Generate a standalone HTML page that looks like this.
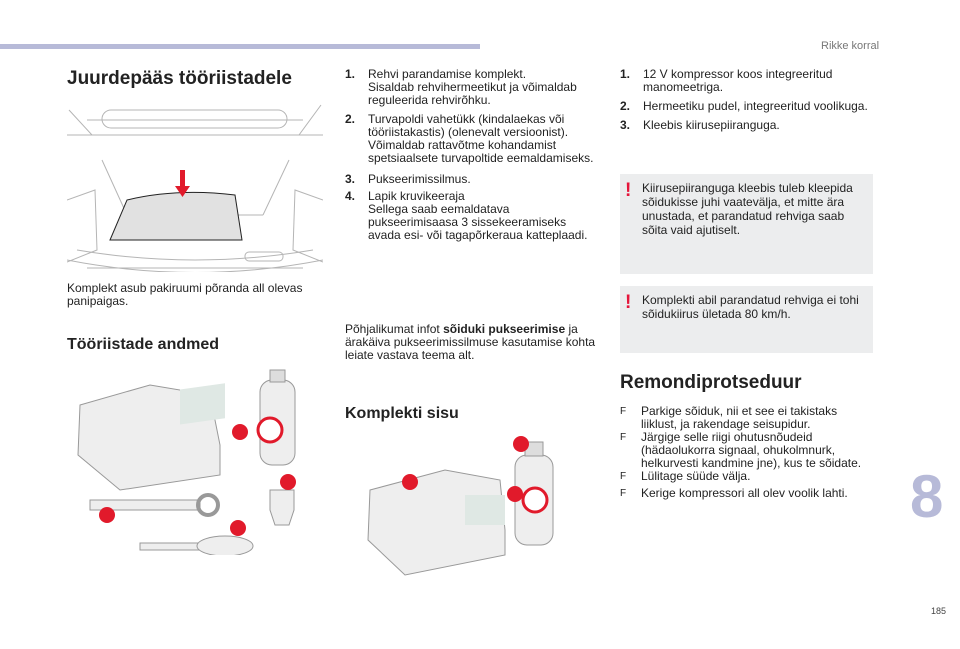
<!DOCTYPE html>
<html><head><meta charset="utf-8"><style>
body{margin:0;width:960px;height:649px;background:#fff;position:relative;overflow:hidden;font-family:"Liberation Sans",sans-serif;color:#222}
.a{position:absolute}
.t{font-size:12px;line-height:13px}
.h1{font-size:19px;font-weight:bold}
.h2{font-size:16px;font-weight:bold}
.n{position:absolute;font-weight:bold}
.li{position:relative;padding-left:23px;margin-bottom:6px}
.li b.n{left:0;top:0}
.box{background:#ecedee;position:absolute}
.ex{position:absolute;color:#e5163b;font-weight:bold;font-size:19px}
.f{position:relative;padding-left:21px;margin-bottom:0}
.f:before{content:"F";position:absolute;left:0;font-size:10px}
.c{fill:#e11a2b}
</style></head><body>
<div class="a" style="left:0;top:44px;width:480px;height:5px;background:#b7bad8"></div>
<div class="a" style="left:821px;top:40px;font-size:11px;color:#777">Rikke korral</div>
<div class="a" style="left:910px;top:462px;font-size:60px;font-weight:bold;color:#b7bad8">8</div>
<div class="a" style="left:931px;top:606px;font-size:9px;color:#444">185</div>

<div class="a h1" style="left:67px;top:68px">Juurdepääs tööriistadele</div>
<svg class="a" style="left:67px;top:100px" width="256" height="172">
<g fill="none" stroke="#b5b5b5" stroke-width="1">
<path d="M2 10 L25 35 M254 5 L232 35 M20 20 H236"/>
<rect x="35" y="10" width="185" height="18" rx="9"/>
<path d="M0 35 H256 M60 115 L35 60 M196 115 L222 60 M60 115 H196"/>
<path d="M0 160 Q128 185 256 160 M10 150 Q128 170 246 150 M20 168 H236"/>
<path d="M0 100 L28 90 L30 150 L0 162 M256 100 L228 90 L226 150 L256 162"/>
<rect x="178" y="152" width="38" height="9" rx="4"/>
</g>
<path d="M43 140 L60 100 Q110 88 168 95 L175 140 Z" fill="#e1e1e1" stroke="#222"/>
<path d="M113 70 h5 v16 h5 l-7.5 11 l-7.5 -11 h5z" fill="#e11a2b"/>
</svg>
<div class="a t" style="left:67px;top:282px;width:250px">Komplekt asub pakiruumi põranda all olevas panipaigas.</div>
<div class="a h2" style="left:67px;top:336px">Tööriistade andmed</div>
<svg class="a" style="left:70px;top:365px" width="240" height="190">
<path d="M10 40 L80 20 L140 30 L150 80 L150 110 L50 125 L8 90 Z" fill="#eee" stroke="#999"/>
<rect x="110" y="40" width="45" height="35" fill="#dfe8e4" transform="skewY(-8)"/>
<rect x="190" y="15" width="35" height="85" rx="12" fill="#eee" stroke="#999"/>
<rect x="200" y="5" width="15" height="12" fill="#ddd" stroke="#999"/>
<circle cx="200" cy="65" r="12" fill="#fff" stroke="#e11a2b" stroke-width="3"/>
<rect x="20" y="135" width="110" height="10" fill="#eee" stroke="#999"/>
<circle cx="138" cy="140" r="10" fill="none" stroke="#999" stroke-width="4"/>
<rect x="70" y="178" width="60" height="7" fill="#eee" stroke="#999"/>
<ellipse cx="155" cy="181" rx="28" ry="10" fill="#eee" stroke="#999"/>
<path d="M200 125 h24 v20 l-5 15 h-14 l-5 -15z" fill="#eee" stroke="#999"/>
<circle class="c" cx="170" cy="67" r="8"/><circle class="c" cx="37" cy="150" r="8"/>
<circle class="c" cx="218" cy="117" r="8"/><circle class="c" cx="168" cy="163" r="8"/>
</svg>

<div class="a t" style="left:345px;top:68px;width:250px">
<div class="li"><b class="n">1.</b>Rehvi parandamise komplekt.<br>Sisaldab rehvihermeetikut ja võimaldab reguleerida rehvirõhku.</div>
<div class="li" style="margin-bottom:8px"><b class="n">2.</b>Turvapoldi vahetükk (kindalaekas või tööriistakastis) (olenevalt versioonist).<br>Võimaldab rattavõtme kohandamist spetsiaalsete turvapoltide eemaldamiseks.</div>
<div class="li" style="margin-bottom:4px"><b class="n">3.</b>Pukseerimissilmus.</div>
<div class="li"><b class="n">4.</b>Lapik kruvikeeraja<br>Sellega saab eemaldatava pukseerimisaasa 3 sissekeeramiseks avada esi- või tagapõrkeraua katteplaadi.</div>
</div>
<div class="a t" style="left:345px;top:323px;width:258px">Põhjalikumat infot <b>sõiduki pukseerimise</b> ja ärakäiva pukseerimissilmuse kasutamise kohta leiate vastava teema alt.</div>
<div class="a h2" style="left:345px;top:405px">Komplekti sisu</div>
<svg class="a" style="left:365px;top:430px" width="220" height="150">
<path d="M5 60 L80 40 L135 50 L140 100 L140 125 L40 145 L3 110 Z" fill="#eee" stroke="#999"/>
<rect x="100" y="65" width="40" height="30" fill="#dfe8e4"/>
<rect x="150" y="25" width="38" height="90" rx="12" fill="#eee" stroke="#999"/>
<rect x="160" y="12" width="18" height="14" fill="#ddd" stroke="#999"/>
<circle cx="170" cy="70" r="12" fill="#fff" stroke="#e11a2b" stroke-width="3"/>
<circle class="c" cx="156" cy="14" r="8"/><circle class="c" cx="45" cy="52" r="8"/><circle class="c" cx="150" cy="64" r="8"/>
</svg>

<div class="a t" style="left:620px;top:68px;width:250px">
<div class="li"><b class="n">1.</b>12 V kompressor koos integreeritud manomeetriga.</div>
<div class="li"><b class="n">2.</b>Hermeetiku pudel, integreeritud voolikuga.</div>
<div class="li"><b class="n">3.</b>Kleebis kiirusepiiranguga.</div>
</div>
<div class="box" style="left:620px;top:174px;width:253px;height:100px"></div>
<div class="ex" style="left:625px;top:180px">!</div>
<div class="a t" style="left:642px;top:181px;width:222px;line-height:14px">Kiirusepiiranguga kleebis tuleb kleepida sõidukisse juhi vaatevälja, et mitte ära unustada, et parandatud rehviga saab sõita vaid ajutiselt.</div>
<div class="box" style="left:620px;top:286px;width:253px;height:67px"></div>
<div class="ex" style="left:625px;top:292px">!</div>
<div class="a t" style="left:642px;top:293px;width:222px;line-height:14px">Komplekti abil parandatud rehviga ei tohi sõidukiirus ületada 80 km/h.</div>
<div class="a h1" style="left:620px;top:372px">Remondiprotseduur</div>
<div class="a t" style="left:620px;top:405px;width:245px">
<div class="f">Parkige sõiduk, nii et see ei takistaks liiklust, ja rakendage seisupidur.</div>
<div class="f">Järgige selle riigi ohutusnõudeid (hädaolukorra signaal, ohukolmnurk, helkurvesti kandmine jne), kus te sõidate.</div>
<div class="f">Lülitage süüde välja.</div>
<div class="f" style="margin-top:4px">Kerige kompressori all olev voolik lahti.</div>
</div>
</body></html>
